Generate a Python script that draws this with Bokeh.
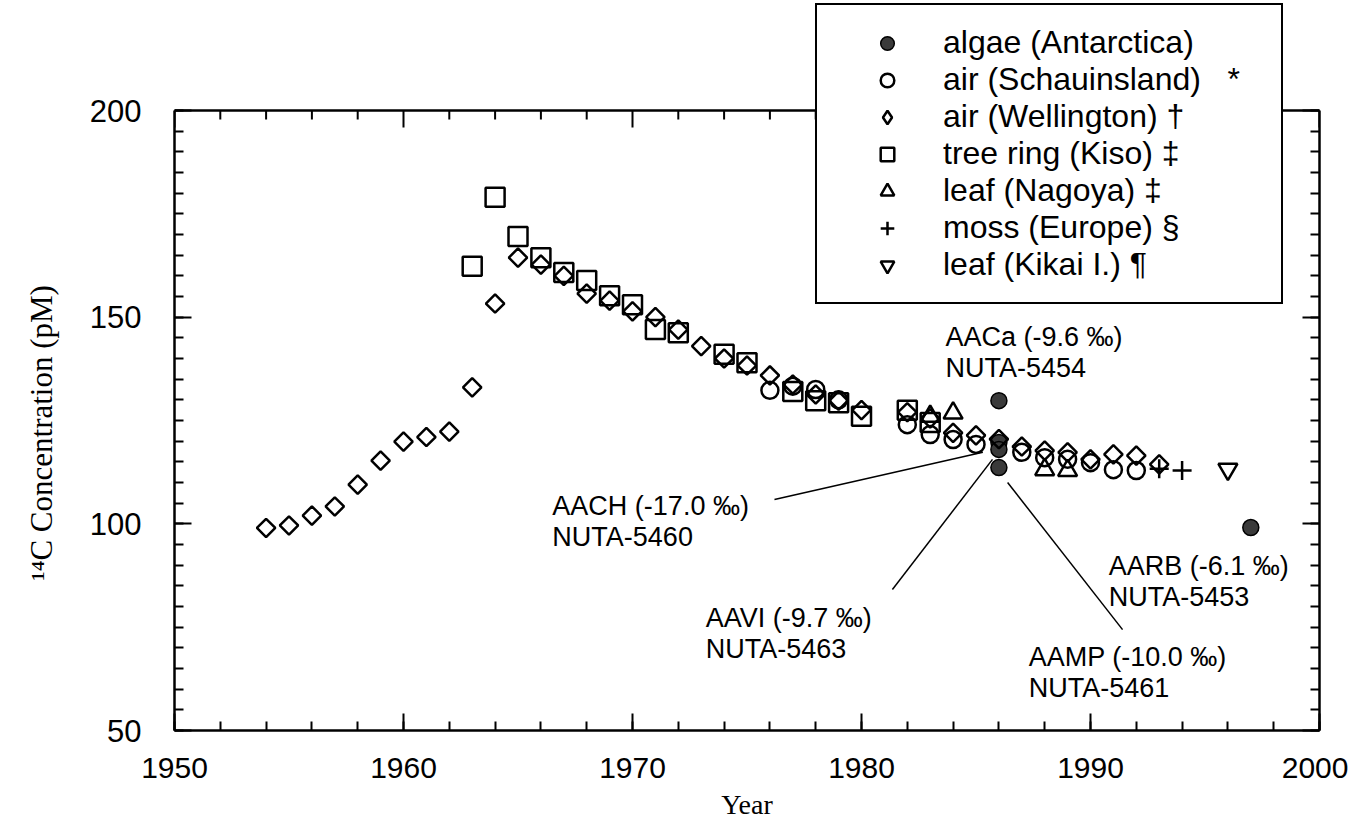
import math
from bokeh.plotting import figure
from bokeh.models import (LinearAxis, SingleIntervalTicker, Range1d, Legend,
                          LegendItem, Label, Span)
from bokeh.embed import file_html
from bokeh.resources import INLINE

# ---------------- data ----------------
algae_year = [1986, 1986, 1986, 1986, 1997]
algae_c14 = [129.8, 119.7, 118.0, 113.6, 99.1]

schau_year = [1976, 1977, 1978, 1979, 1982, 1983, 1984, 1985, 1987, 1988,
              1989, 1990, 1991, 1992]
schau_c14 = [132.3, 133.3, 132.5, 130.0, 124.0, 121.6, 120.4, 119.2, 117.3,
             116.0, 115.6, 114.8, 113.1, 112.9]

well_year = [1954, 1955, 1956, 1957, 1958, 1959, 1960, 1961, 1962, 1963,
             1964, 1965, 1966, 1967, 1968, 1969, 1970, 1971, 1972, 1973,
             1974, 1975, 1976, 1977, 1978, 1979, 1980, 1982, 1983, 1984,
             1985, 1986, 1987, 1988, 1989, 1990, 1991, 1992, 1993]
well_c14 = [99.0, 99.6, 102.0, 104.2, 109.5, 115.3, 119.9, 121.0, 122.3, 133.0,
            153.3, 164.4, 162.7, 160.0, 155.7, 154.0, 151.4, 150.0, 147.0, 143.0,
            140.0, 138.3, 135.9, 133.7, 131.3, 129.8, 127.5, 127.0, 125.5, 122.0,
            121.4, 120.5, 118.7, 117.7, 117.3, 115.6, 116.8, 116.5, 114.4]

kiso_year = [1963, 1964, 1965, 1966, 1967, 1968, 1969, 1970, 1971, 1972,
             1974, 1975, 1977, 1978, 1979, 1980, 1982, 1983]
kiso_c14 = [162.3, 179.0, 169.5, 164.4, 160.8, 158.9, 155.2, 153.0, 147.0, 146.2,
            141.0, 139.0, 132.0, 129.8, 129.3, 126.0, 127.5, 124.5]

nagoya_year = [1983, 1984, 1988, 1989]
nagoya_c14 = [126.0, 126.8, 113.1, 112.9]

moss_year = [1993, 1994]
moss_c14 = [113.3, 112.9]

kikai_year = [1996]
kikai_c14 = [113.2]

series_names = ["algae (Antarctica)", "air (Schauinsland)", "air (Wellington)",
                "tree ring (Kiso)", "leaf (Nagoya)", "moss (Europe)",
                "leaf (Kikai I.)"]
series_marks = ["", "*", "\u2020", "\u2021", "\u2021", "\u00a7", "\u00b6"]

sample_codes = ["AACa (-9.6 \u2030)", "AACH (-17.0 \u2030)", "AAVI (-9.7 \u2030)",
                "AAMP (-10.0 \u2030)", "AARB (-6.1 \u2030)"]
sample_ids = ["NUTA-5454", "NUTA-5460", "NUTA-5463", "NUTA-5461", "NUTA-5453"]

x_min, x_max, x_step, x_minor = 1950, 2000, 10, 5
y_min, y_max, y_step, y_minor = 50, 200, 50, 10

# ---------------- figure ----------------
SANS = "Liberation Sans"
SERIF = "Liberation Serif"
PX_PER_UNIT = 620.0 / (y_max - y_min)
Y_TOP = y_min + 727.0 / PX_PER_UNIT   # headroom above the 200 line for the key box

p = figure(width=1348, height=822, output_backend="svg", toolbar_location=None,
           x_range=Range1d(x_min, x_max), y_range=Range1d(y_min, Y_TOP),
           min_border_left=174, min_border_right=29, min_border_top=3,
           min_border_bottom=92, background_fill_color="white",
           border_fill_color="white", outline_line_color=None)
p.grid.visible = False

p.xaxis.ticker = SingleIntervalTicker(interval=x_step, num_minor_ticks=x_minor)
p.yaxis.ticker = SingleIntervalTicker(interval=y_step, num_minor_ticks=y_minor)
p.yaxis.bounds = (y_min, y_max)
right_ax = LinearAxis(ticker=SingleIntervalTicker(interval=y_step, num_minor_ticks=y_minor),
                      bounds=(y_min, y_max))
right_ax.major_label_overrides = {v: "" for v in range(y_min, y_max + 1, y_step)}
p.add_layout(right_ax, "right")

for ax in p.axis:
    ax.major_tick_in = 17
    ax.major_tick_out = 0
    ax.minor_tick_in = 9
    ax.minor_tick_out = 0
    ax.axis_line_width = 2.5
    ax.major_tick_line_width = 2
    ax.minor_tick_line_width = 2
    ax.axis_line_color = "black"
    ax.major_tick_line_color = "black"
    ax.minor_tick_line_color = "black"
    ax.major_label_text_font = SANS
    ax.major_label_text_font_size = "30px"
    ax.major_label_text_color = "black"
    ax.axis_label_text_color = "black"
    ax.axis_label_text_font = SERIF
    ax.axis_label_text_font_style = "normal"

right_ax.major_label_standoff = 0

xa = p.below[0]
xa.major_label_standoff = 27
xa.axis_label = "Year"
xa.axis_label_text_font_size = "28px"
xa.axis_label_standoff = 8

ya = p.left[0]
ya.major_label_text_font_size = "31px"
ya.major_label_standoff = 33
# trailing no-break spaces keep the title centred on the 50-200 part of the axis
ya.axis_label = "\u00b9\u2074C Concentration (pM)" + "\u00a0" * 17
ya.axis_label_text_font_size = "31px"
ya.axis_label_standoff = 28

# top border of the data box (at y = 200) with inward ticks
p.add_layout(Span(location=y_max, dimension="width", line_color="black",
                  line_width=2.5))
minor_dx = x_step / x_minor
top_tx = [x_min + i * minor_dx for i in range(int((x_max - x_min) / minor_dx) + 1)]
top_len = [(17 if abs((t - x_min) % x_step) < 1e-9 else 9) / PX_PER_UNIT for t in top_tx]
p.segment(top_tx, [y_max] * len(top_tx), top_tx, [y_max - l for l in top_len],
          line_color="black", line_width=2)

# ---------------- markers ----------------
LW = 2.5
r_algae = p.scatter(algae_year, algae_c14, marker="circle", size=16,
                    fill_color="#3a3a3a", line_color="black", line_width=1.5)
r_schau = p.scatter(schau_year, schau_c14, marker="circle", size=17,
                    fill_color=None, line_color="black", line_width=LW)
r_well = p.scatter(well_year, well_c14, marker="square", size=13, angle=math.pi / 4,
                   fill_color=None, line_color="black", line_width=LW)
# hidden twin of the Wellington series, used only for its key glyph
# (the key does not rotate markers, so a native diamond is used there)
r_well_key = p.scatter(well_year, well_c14, marker="diamond", size=21,
                       fill_color=None, line_color="black", line_width=LW,
                       visible=False)
r_kiso = p.scatter(kiso_year, kiso_c14, marker="square", size=19,
                   fill_color=None, line_color="black", line_width=LW)
r_nagoya = p.scatter(nagoya_year, nagoya_c14, marker="triangle", size=19,
                     fill_color=None, line_color="black", line_width=LW)
r_moss = p.scatter(moss_year, moss_c14, marker="cross", size=19,
                   fill_color=None, line_color="black", line_width=LW)
r_kikai = p.scatter(kikai_year, kikai_c14, marker="inverted_triangle", size=19,
                    fill_color=None, line_color="black", line_width=LW)

# ---------------- leader lines from sample labels ----------------
lead_x0 = [1976.2, 1981.35, 1986.38]
lead_y0 = [105.9, 84.1, 110.0]
lead_x1 = [1985.3, 1985.72, 1991.4]
lead_y1 = [117.3, 115.6, 74.4]
p.segment(lead_x0, lead_y0, lead_x1, lead_y1, line_color="black", line_width=1.5)

label_x = [1983.67, 1966.5, 1973.2, 1987.3, 1990.8]
label_y = [145.1, 104.4, 77.3, 67.7, 89.9]
line_gap = 7.5
for code, sid, lx, ly in zip(sample_codes, sample_ids, label_x, label_y):
    for txt, yy in ((code, ly), (sid, ly - line_gap)):
        p.add_layout(Label(x=lx, y=yy, text=txt, text_font=SANS,
                           text_font_size="27px", text_color="black",
                           text_align="left", text_baseline="middle"))

# ---------------- legend ----------------
renderers = [r_algae, r_schau, r_well_key, r_kiso, r_nagoya, r_moss, r_kikai]
labels = []
for n, m in zip(series_names, series_marks):
    if m == "":
        labels.append(n)
    elif m == "*":
        labels.append(n + "\u00a0\u00a0\u00a0" + m)
    else:
        labels.append(n + "\u00a0" + m)
legend = Legend(items=[LegendItem(label=l, renderers=[r]) for l, r in zip(labels, renderers)],
                location=(641, 426), margin=0, padding=19, spacing=0,
                glyph_width=102, glyph_height=34, label_height=36, label_width=319,
                label_standoff=5, label_text_font=SANS, label_text_font_size="32px",
                label_text_color="black", border_line_color="black",
                border_line_alpha=1.0, border_line_width=2,
                background_fill_color="white", background_fill_alpha=1.0,
                inactive_fill_alpha=0.0)
p.add_layout(legend)

open("out.html", "w").write(file_html(p, INLINE))
